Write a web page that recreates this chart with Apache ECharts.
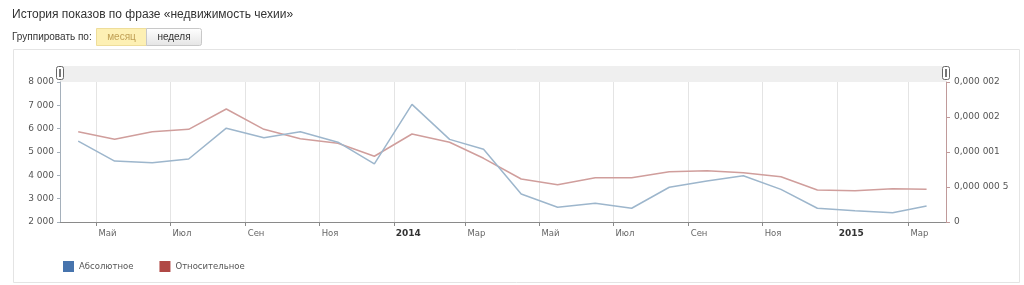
<!DOCTYPE html>
<html>
<head>
<meta charset="utf-8">
<script src="https://cdn.jsdelivr.net/npm/echarts@6/dist/echarts.min.js"></script>
<style>
html,body{margin:0;padding:0;background:#fff;}
#c{width:1024px;height:285px;}
</style>
</head>
<body>
<div id="c"></div>
<script>
// Months (data points are plotted at mid-month)
var months = ['2013-04','2013-05','2013-06','2013-07','2013-08','2013-09','2013-10','2013-11','2013-12',
              '2014-01','2014-02','2014-03','2014-04','2014-05','2014-06','2014-07','2014-08','2014-09',
              '2014-10','2014-11','2014-12','2015-01','2015-02','2015-03'];
// Absolute impressions
var absoluteValues = [5470, 4610, 4540, 4700, 6020, 5610, 5870, 5420, 4490,
                      7040, 5540, 5120, 3200, 2630, 2800, 2590, 3490, 3760,
                      3980, 3400, 2590, 2480, 2400, 2690];
// Relative share
var relativeValues = [1.290e-6, 1.181e-6, 1.290e-6, 1.324e-6, 1.614e-6, 1.324e-6, 1.190e-6, 1.124e-6, 0.939e-6,
                      1.257e-6, 1.139e-6, 0.910e-6, 0.614e-6, 0.533e-6, 0.633e-6, 0.633e-6, 0.719e-6, 0.733e-6,
                      0.704e-6, 0.647e-6, 0.457e-6, 0.447e-6, 0.476e-6, 0.467e-6];
var monthNames = ['Янв','Фев','Мар','Апр','Май','Июн','Июл','Авг','Сен','Окт','Ноя','Дек'];
var leftTickLabels = ['2 000','3 000','4 000','5 000','6 000','7 000','8 000'];
var rightTickLabels = ['0','0,000 000 5','0,000 001','0,000 002','0,000 002'];
var seriesNames = ['Абсолютное','Относительное'];

function toDate(s, day){ var p = s.split('-'); return new Date(+p[0], +p[1]-1, day).getTime(); }
var absData = months.map(function(m,i){ return [toDate(m,16), absoluteValues[i]]; });
var relData = months.map(function(m,i){ return [toDate(m,16), relativeValues[i]]; });

var FONT = 'DejaVu Sans';
var chart = echarts.init(document.getElementById('c'), null, {renderer:'canvas'});
chart.setOption({
  animation:false,
  backgroundColor:'#ffffff',
  title:{
    text:'История показов по фразе «недвижимость чехии»',
    left:12, top:9, padding:0,
    textStyle:{fontFamily:'Liberation Sans', fontSize:12, fontWeight:'normal', color:'#333'}
  },
  graphic:[
    {type:'rect', shape:{x:13.5, y:49.5, width:1006, height:233}, style:{fill:'none', stroke:'#e4e4e4', lineWidth:1}, silent:true},
    {type:'text', left:12, top:32, style:{text:'Группировать по:', fontFamily:'Liberation Sans', fontSize:10, fill:'#333'}},
    {type:'rect', shape:{x:96.5, y:28.5, width:50, height:17}, style:{fill:'#fdf0b4', stroke:'#eedd9a', lineWidth:1}},
    {type:'text', x:121.5, y:37, style:{text:'месяц', fontFamily:'Liberation Sans', fontSize:10, fill:'#c0a055', align:'center', verticalAlign:'middle'}},
    {type:'rect', shape:{x:146.5, y:28.5, width:55, height:17, r:[0,2,2,0]},
      style:{fill:new echarts.graphic.LinearGradient(0,0,0,1,[{offset:0,color:'#ffffff'},{offset:1,color:'#e4e4e4'}]), stroke:'#c8c8c8', lineWidth:1}},
    {type:'text', x:174, y:37, style:{text:'неделя', fontFamily:'Liberation Sans', fontSize:10, fill:'#333', align:'center', verticalAlign:'middle'}},
    // navigator bar
    {type:'rect', shape:{x:60, y:66, width:886, height:16}, style:{fill:'#efefef'}, silent:true},
    {type:'rect', shape:{x:56.5, y:66.5, width:7, height:13, r:2}, style:{fill:'#fff', stroke:'#666', lineWidth:1}},
    {type:'rect', shape:{x:59, y:69, width:2, height:8}, style:{fill:'#777'}},
    {type:'rect', shape:{x:942.5, y:66.5, width:7, height:13, r:2}, style:{fill:'#fff', stroke:'#666', lineWidth:1}},
    {type:'rect', shape:{x:945, y:69, width:2, height:8}, style:{fill:'#777'}}
  ],
  legend:{
    left:58, top:256,
    icon:'rect', itemWidth:11, itemHeight:11, itemGap:26, itemTextGap:6,
    textStyle:{fontFamily:FONT, fontSize:8.5, color:'#555'},
    data:[{name:seriesNames[0], itemStyle:{color:'#4774ad'}},{name:seriesNames[1], itemStyle:{color:'#b04845'}}]
  },
  grid:{left:60, right:78, top:82, bottom:63, outerBoundsMode:'none', containLabel:false},
  xAxis:{
    type:'time',
    min:new Date(2013,3,1).getTime(),
    max:new Date(2015,3,1).getTime(),
    splitNumber:10,
    axisLine:{show:true, lineStyle:{color:'#8a8a8a', width:1}},
    axisTick:{show:true, length:4, lineStyle:{color:'#8a8a8a'}},
    splitLine:{show:true, lineStyle:{color:'#e4e4e4', width:1}},
    minorTick:{show:false},
    axisLabel:{
      show:true, margin:7, align:'left', padding:[0,0,0,2],
      fontFamily:FONT, fontSize:8.5, color:'#666',
      showMinLabel:false, showMaxLabel:false,
      formatter:function(v){
        var d = new Date(v); var m = d.getMonth();
        if (m % 2 === 1 || d.getDate() !== 1) return '';
        if (m === 0) return '{y|' + d.getFullYear() + '}';
        return monthNames[m];
      },
      rich:{y:{fontFamily:FONT, fontSize:9, fontWeight:'bold', color:'#333'}}
    }
  },
  yAxis:[
    {
      type:'value', min:2000, max:8000, interval:1000, position:'left',
      axisLine:{show:true, lineStyle:{color:'#a5b0bb', width:1}},
      axisTick:{show:true, length:3, lineStyle:{color:'#a5b0bb'}},
      splitLine:{show:false},
      axisLabel:{margin:6, fontFamily:FONT, fontSize:9, color:'#555',
        formatter:function(v){ return leftTickLabels[Math.round((v-2000)/1000)]; }}
    },
    {
      type:'value', min:0, max:2e-6, interval:5e-7, position:'right',
      axisLine:{show:true, lineStyle:{color:'#c09a9a', width:1}},
      axisTick:{show:true, length:4, lineStyle:{color:'#c09a9a'}},
      splitLine:{show:false},
      axisLabel:{margin:8, fontFamily:FONT, fontSize:9, color:'#555',
        formatter:function(v){ return rightTickLabels[Math.round(v/5e-7)]; }}
    }
  ],
  series:[
    {name:seriesNames[0], type:'line', yAxisIndex:0, data:absData, showSymbol:false, symbol:'none',
      itemStyle:{color:'#4774ad'}, lineStyle:{color:'#9db6cc', width:1.5}, z:3},
    {name:seriesNames[1], type:'line', yAxisIndex:1, data:relData, showSymbol:false, symbol:'none',
      itemStyle:{color:'#b04845'}, lineStyle:{color:'#d09e9c', width:1.5}, z:2}
  ]
});
</script>
</body>
</html>
